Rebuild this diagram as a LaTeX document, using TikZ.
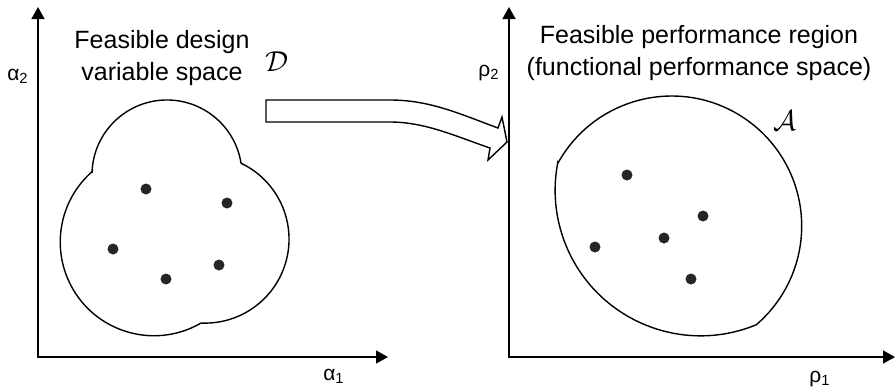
\documentclass[tikz,border=0pt]{standalone}
\usepackage{fontspec}
\setmainfont{Liberation Sans}
\usetikzlibrary{arrows.meta}
\tikzset{
  axes/.style={line width=0.8pt, {Triangle[length=6pt,width=6.5pt]}-{Triangle[length=6pt,width=6.5pt]}},
  region/.style={line width=0.7pt},
  sample/.style={circle, fill=black!85, inner sep=0pt, minimum size=5.5pt},
  title/.style={font=\fontsize{12.5}{16}\selectfont, align=center},
  axlabel/.style={font=\fontsize{10.5}{12}\selectfont},
  hand/.style={font=\fontsize{14}{14}\selectfont},
}

\begin{document}
\begin{tikzpicture}[x=0.5pt,y=-0.5pt]
  \useasboundingbox (0,0) rectangle (896,388);
  % design variable space
  \coordinate (dO) at (38,357);
  \coordinate (dX) at (388,357);
  \coordinate (dY) at (38,7);
  \draw[axes] (dY) -- (dO) -- (dX);
  \node[axlabel] (a2) at (18,76) {α\textsubscript{2}};
  \node[axlabel] (a1) at (334,376) {α\textsubscript{1}};
  \node[title] (dtitle) at (162,58) {Feasible design\\variable space};
  \node[hand] (dname) at (277,62) {$\mathcal{D}$};
  \draw[region] (92,173) arc[start angle=181.5, end angle=351, radius=75]
    arc[start angle=-64.6, end angle=92.7, radius=84]
    arc[start angle=59.8, end angle=228.8, radius=93.7] -- cycle;
  \foreach \p [count=\i] in {(146,189),(227,203),(113,249),(166,279),(219,265)}
    \node[sample] (d\i) at \p {};
  % mapping
  \draw[region, fill=white] (266,100) -- (390,100)
    .. controls (430,100) and (460,114) .. (498,128) -- (502,117) -- (507,142)
    -- (488,160) -- (490,148) .. controls (455,136) and (425,122) .. (390,122)
    -- (266,122) -- cycle;
  % performance space
  \coordinate (pO) at (509,357);
  \coordinate (pX) at (895,357);
  \coordinate (pY) at (509,7);
  \draw[axes] (pY) -- (pO) -- (pX);
  \node[axlabel] (r2) at (489,73) {ρ\textsubscript{2}};
  \node[axlabel] (r1) at (820,379) {ρ\textsubscript{1}};
  \node[title] (ptitle) at (699,53) {Feasible performance region\\(functional performance space)};
  \node[hand] (pname) at (785,121) {$\mathcal{A}$};
  \draw[region] (558,163) arc[start angle=209, end angle=409.4, radius=130]
    arc[start angle=67.5, end angle=191, radius=145.5] -- cycle;
  \foreach \p [count=\i] in {(627,175),(703,216),(664,238),(595,247),(691,279)}
    \node[sample] (p\i) at \p {};
\end{tikzpicture}
\end{document}
